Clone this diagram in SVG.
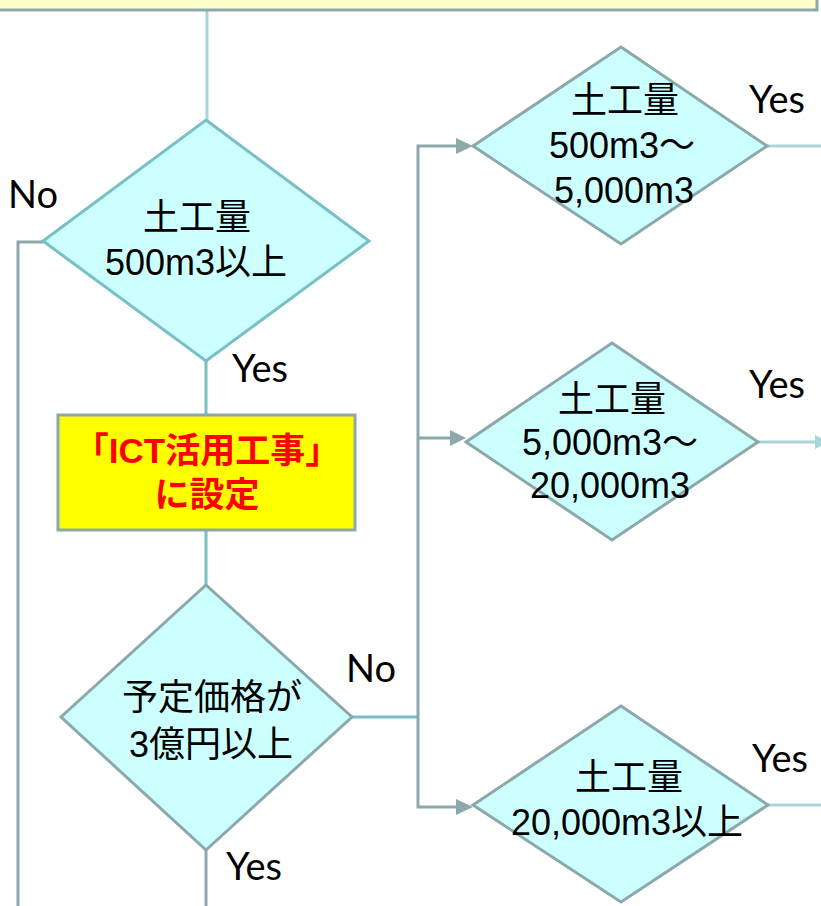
<svg xmlns="http://www.w3.org/2000/svg" width="821" height="906" viewBox="0 0 821 906">
<style>
.dia{fill:#ccffff;stroke-width:3;stroke-linejoin:miter}
.teal{stroke:#78bfc6}
.gray{stroke:#8ca8ab}
.lbl{font-family:"Liberation Sans","Noto Sans CJK JP",sans-serif;font-size:36px;fill:#000;text-anchor:middle}
.yn{font-family:Lato,"Liberation Sans",sans-serif;font-size:38px;fill:#000}
.red{font-family:"Liberation Sans","Noto Sans CJK JP",sans-serif;font-size:35px;font-weight:bold;fill:#ff0000;text-anchor:middle}
.cT{fill:none;stroke:#78bfc6;stroke-width:3}
.cG{fill:none;stroke:#8ca8ab;stroke-width:3}
.cL{fill:none;stroke:#a9d6da;stroke-width:3}
.ah{fill:#8ca8ab}
</style>
<rect width="821" height="906" fill="#ffffff"/>
<g id="connectors">
<line class="cL" x1="207" y1="10" x2="207" y2="120"/>
<line class="cT" x1="206" y1="361" x2="206" y2="415"/>
<line class="cT" x1="206" y1="530" x2="206" y2="585"/>
<polyline class="cG" points="43,242 18,242 18,906"/>
<line class="cT" x1="352" y1="717" x2="418" y2="717"/>
<polyline class="cG" points="458,146 418,146 418,807 458,807"/>
<line class="cG" x1="418" y1="438" x2="458" y2="438"/>
<polygon class="ah" points="456,138 473,146 456,154"/>
<polygon class="ah" points="450,430 466,438 450,446"/>
<polygon class="ah" points="456,799 473,807 456,815"/>
<line class="cG" x1="206" y1="850" x2="206" y2="906"/>
<line class="cL" x1="767" y1="146" x2="821" y2="146"/>
<line class="cL" x1="758" y1="442" x2="816" y2="442"/>
<polygon fill="#a9d6da" points="815,435 829,442 815,449"/>
<line class="cL" x1="768" y1="805" x2="821" y2="805"/>
</g>
<g id="top-box">
<rect x="-3" y="-20" width="820" height="30" fill="#ffffcc" stroke="#8ca8ab" stroke-width="3"/>
</g>
<g id="d1">
<polygon class="dia teal" points="206,120 369,241 206,361 43,241"/>
<text class="lbl" x="197" y="230">土工量</text>
<text class="lbl" x="196" y="275">500m3以上</text>
<text class="yn" x="8" y="208">No</text>
<text class="yn" x="232" y="382">Yes</text>
</g>
<g id="ict-box">
<rect x="58" y="415" width="297" height="115" fill="#ffff00" stroke="#8ca8ab" stroke-width="3"/>
<text class="red" x="207" y="463">「ICT活用工事」</text>
<text class="red" x="207" y="507">に設定</text>
</g>
<g id="d5">
<polygon class="dia gray" points="206,585 352,717 206,850 61,717"/>
<text class="lbl" x="212" y="710">予定価格が</text>
<text class="lbl" x="211" y="757">3億円以上</text>
<text class="yn" x="346" y="682">No</text>
<text class="yn" x="226" y="880">Yes</text>
</g>
<g id="d2">
<polygon class="dia gray" points="621,47 767,146 621,244 473,146"/>
<text class="lbl" x="625" y="113">土工量</text>
<text class="lbl" x="622" y="158">500m3～</text>
<text class="lbl" x="624" y="203">5,000m3</text>
<text class="yn" x="749" y="113">Yes</text>
</g>
<g id="d3">
<polygon class="dia gray" points="612,343 758,442 612,540 466,442"/>
<text class="lbl" x="612" y="412">土工量</text>
<text class="lbl" x="610" y="455">5,000m3～</text>
<text class="lbl" x="610" y="498">20,000m3</text>
<text class="yn" x="749" y="398">Yes</text>
</g>
<g id="d4">
<polygon class="dia gray" points="621,706 768,805 621,902 473,805"/>
<text class="lbl" x="629" y="790">土工量</text>
<text class="lbl" x="627" y="835">20,000m3以上</text>
<text class="yn" x="752" y="772">Yes</text>
</g>
</svg>
